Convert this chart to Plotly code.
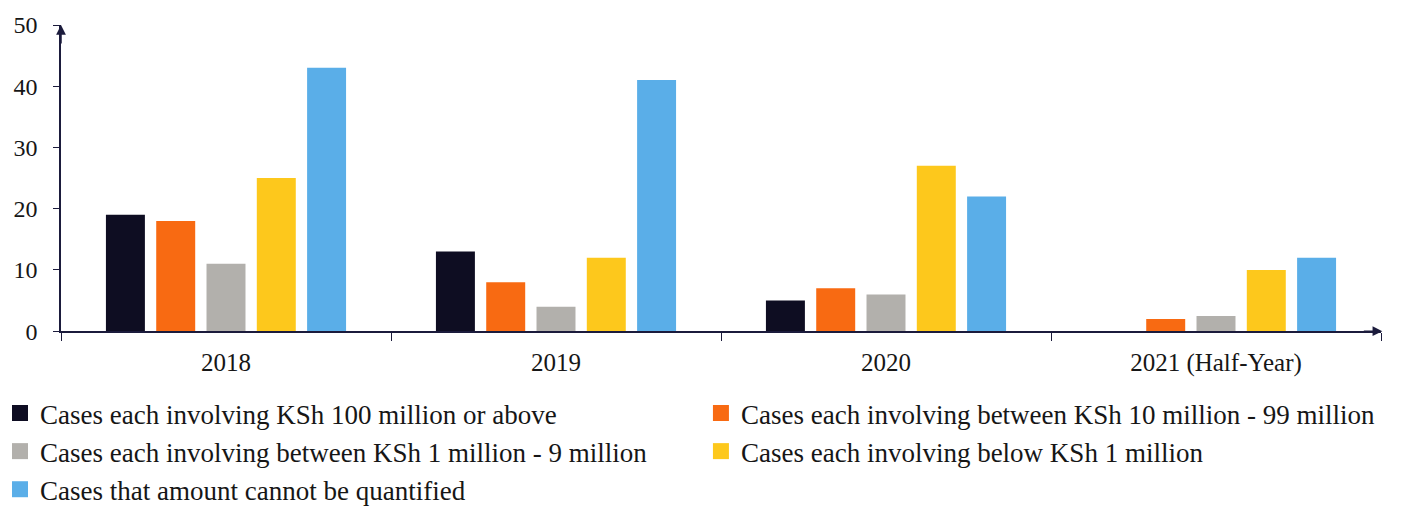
import plotly.graph_objects as go

categories = ["2018", "2019", "2020", "2021 (Half-Year)"]
series_names = [
    "Cases each involving KSh 100 million or above",
    "Cases each involving between KSh 10 million - 99 million",
    "Cases each involving between KSh 1 million - 9 million",
    "Cases each involving below KSh 1 million",
    "Cases that amount cannot be quantified",
]
above_100m = [19, 13, 5, 0]
between_10m_99m = [18, 8, 7, 2]
between_1m_9m = [11, 4, 6, 2.5]
below_1m = [25, 12, 27, 10]
not_quantified = [43, 41, 22, 12]
y_ticks = [0, 10, 20, 30, 40, 50]

series_values = [above_100m, between_10m_99m, between_1m_9m, below_1m, not_quantified]
colors = ["#0e0d22", "#f86a12", "#b2b0ac", "#fdc81c", "#5aaee8"]
legend_ids = ["legend", "legend2", "legend", "legend2", "legend"]

AXIS = "#1b1b3c"
FONT = "Liberation Serif"
TXT = "#161616"

fig = go.Figure()
for name, vals, col, lg in zip(series_names, series_values, colors, legend_ids):
    fig.add_trace(go.Bar(x=categories, y=vals, name=name, marker_color=col,
                         marker_line_width=0, showlegend=False))
    fig.add_trace(go.Scatter(x=[None], y=[None], mode="markers", name=name,
                             legend=lg,
                             marker=dict(symbol="square", size=18, color=col)))

legend_common = dict(orientation="v", xanchor="left", yanchor="top",
                     yref="container", y=0.2343,
                     font=dict(family=FONT, size=27, color=TXT),
                     itemclick=False, bgcolor="rgba(0,0,0,0)", borderwidth=0)

fig.update_layout(
    width=1404, height=508,
    margin=dict(l=61, r=23, t=23, b=176),
    paper_bgcolor="white", plot_bgcolor="white",
    barmode="group", bargap=0.238, bargroupgap=0.225,
    font=dict(family=FONT, size=24, color=TXT),
    showlegend=True,
    legend=dict(x=-0.0508, **legend_common),
    legend2=dict(x=0.4848, **legend_common),
    xaxis=dict(type="category", showline=True, linecolor=AXIS, linewidth=1.5,
               ticks="outside", tickson="boundaries", ticklen=8, tickcolor=AXIS,
               showgrid=False, tickfont=dict(size=25), ticklabelstandoff=8),
    yaxis=dict(range=[0, 50], tickvals=y_ticks, showline=True, linecolor=AXIS,
               linewidth=1.5, ticks="outside", ticklen=6, tickcolor=AXIS,
               showgrid=False, zeroline=False, tickfont=dict(size=24),
               ticklabelstandoff=11),
)

# arrowheads at the ends of the axes
fig.add_annotation(xref="paper", yref="paper", x=0, y=1.0, ax=0, ay=20,
                   showarrow=True, arrowhead=2, arrowsize=1.3, arrowwidth=1.5,
                   arrowcolor=AXIS, text="")
fig.add_annotation(xref="paper", yref="paper", x=1.001, y=0, ax=-20, ay=0,
                   showarrow=True, arrowhead=2, arrowsize=1.3, arrowwidth=1.5,
                   arrowcolor=AXIS, text="")

fig.write_html("out.html", config={"displayModeBar": False},
               post_script="document.body.style.margin='0';document.body.style.overflow='hidden';")
